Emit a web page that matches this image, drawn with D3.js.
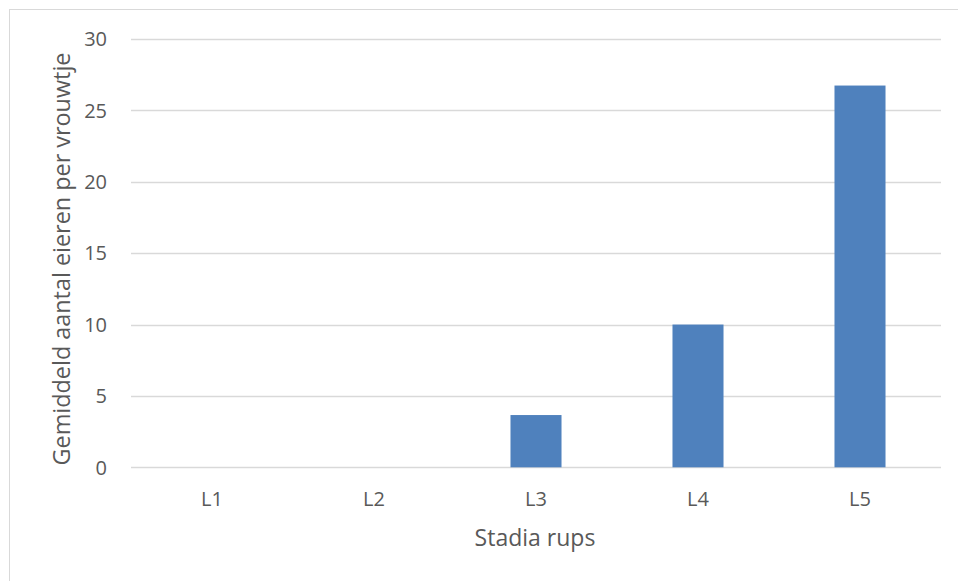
<!DOCTYPE html>
<html><head><meta charset="utf-8">
<script src="https://cdn.jsdelivr.net/npm/d3@7"></script>
<style>html,body{margin:0;padding:0;background:#fff;}</style>
</head><body>
<svg id="c" width="958" height="581"></svg>
<script>
const categories = ["L1","L2","L3","L4","L5"];
const values = [0, 0, 3.66, 10, 26.74];
const yTicks = [0,5,10,15,20,25,30];
const xTitle = "Stadia rups";
const yTitle = "Gemiddeld aantal eieren per vrouwtje";

const svg = d3.select("#c");
const font = "'Open Sans', sans-serif";
svg.append("rect").attr("x",9.5).attr("y",9.5).attr("width",960).attr("height",600)
  .attr("fill","#fff").attr("stroke","#d9d9d9").attr("stroke-width",1);

const x = d3.scaleBand().domain(categories).range([131,941]).paddingInner(0.685).paddingOuter(0.3425);
const y = d3.scaleLinear().domain([0,30]).range([467.3,39]);

const g = svg.append("g");
g.selectAll("line.grid").data(yTicks).join("line")
  .attr("x1",131).attr("x2",941)
  .attr("y1",d=>Math.round(y(d))+0.5).attr("y2",d=>Math.round(y(d))+0.5)
  .attr("stroke","#d9d9d9").attr("stroke-width",1.3);

g.selectAll("rect.bar").data(values).join("rect")
  .attr("x",(d,i)=>x(categories[i])).attr("width",x.bandwidth())
  .attr("y",d=>y(d)).attr("height",d=>y(0)-y(d))
  .attr("fill","#4f81bd");

g.selectAll("text.yt").data(yTicks).join("text")
  .attr("x",107).attr("y",d=>y(d)).attr("dy","0.36em")
  .attr("text-anchor","end").attr("font-family",font).attr("font-size",20).attr("fill","#595959")
  .text(d=>d);

g.selectAll("text.xt").data(categories).join("text")
  .attr("x",d=>x(d)+x.bandwidth()/2).attr("y",499).attr("dy","0.36em")
  .attr("text-anchor","middle").attr("font-family",font).attr("font-size",20).attr("fill","#595959")
  .text(d=>d);

svg.append("text").attr("x",535).attr("y",538).attr("dy","0.36em")
  .attr("text-anchor","middle").attr("font-family",font).attr("font-size",23).attr("fill","#595959")
  .text(xTitle);
svg.append("text").attr("transform","translate(62,259) rotate(-90)").attr("dy","0.36em")
  .attr("text-anchor","middle").attr("font-family",font).attr("font-size",23.4).attr("fill","#595959")
  .text(yTitle);
</script>
</body></html>
